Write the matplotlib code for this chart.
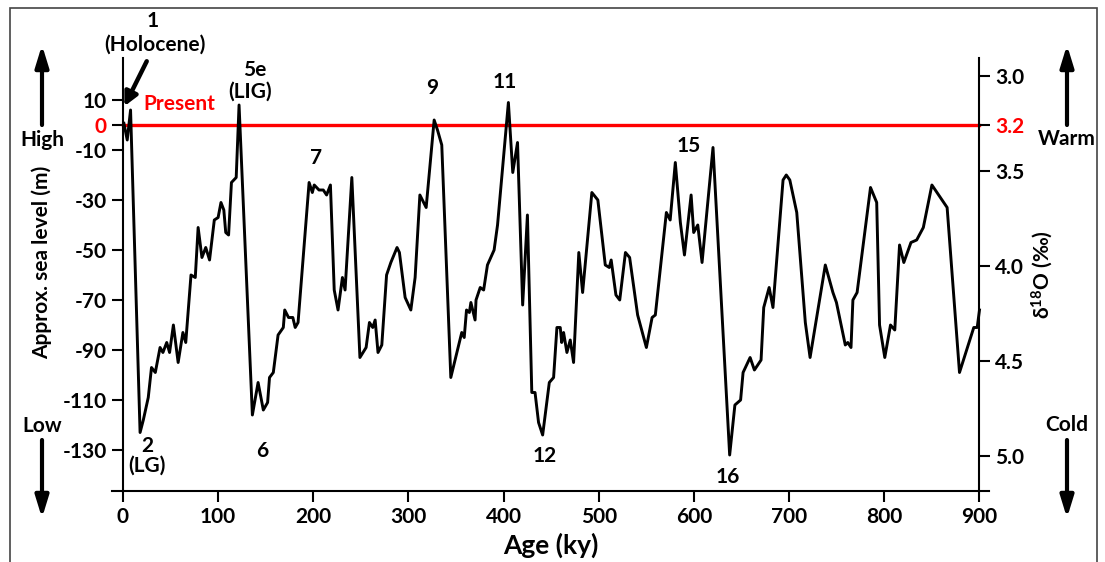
import matplotlib
matplotlib.use('Agg')
import matplotlib.pyplot as plt
from matplotlib.patches import Rectangle

plt.rcParams['font.family'] = ['Lato', 'DejaVu Sans']
plt.rcParams['font.weight'] = 'bold'
plt.rcParams['mathtext.default'] = 'regular'

# sea-level curve (age in ky, sea level in m)
ages = [1, 4.5, 8, 18, 21.4, 26.6, 30, 34, 39, 42,
        46, 49, 53, 58, 63, 66, 71.5, 76, 79, 83,
        87, 91, 96, 100, 103, 106, 108, 111, 114, 119,
        122, 136, 142, 147.5, 152, 154, 158, 163, 168.5, 170,
        174, 178.5, 181, 184, 195.6, 199, 201, 206, 210.5, 214,
        218, 222, 226, 230.6, 233.4, 240.5, 249, 255.5, 259, 262.5,
        265, 268, 272, 277, 281.5, 288, 290.5, 296.5, 302.5, 307,
        312, 318.6, 327, 330.5, 335, 344.5, 356, 358.6, 361, 364,
        365.6, 370, 371, 375.4, 379, 383, 390, 393.6, 405, 409.6,
        414.6, 420, 425, 429.6, 433, 436.7, 441, 448, 452.5, 456,
        459.5, 461, 463, 466.5, 470, 473.5, 479, 483, 492.7, 499,
        506.8, 511, 513, 518, 522, 528, 532.4, 540.8, 550, 556,
        559.4, 571, 575, 580.4, 585.7, 590, 597, 599.7, 604, 608.5,
        620, 637.5, 643, 649, 651.6, 659, 663.5, 670.5, 673.3, 679,
        683, 693.6, 697, 700.7, 708, 717, 722, 738, 741.6, 746,
        749.7, 759, 761.6, 765, 767, 771.4, 785.5, 792, 795, 800.5,
        806.5, 811, 816, 820.5, 828, 834, 841, 850, 866, 879,
        894, 897.6, 900]
sea_level = [0.7, -6, 6, -123, -118, -109, -97, -99, -89, -91,
             -87, -91, -80, -95, -83, -87, -60, -61, -41, -53,
             -49, -54, -38, -37, -31, -34, -43, -44, -23, -21,
             8, -116, -103, -114, -111, -101, -99, -84, -81, -74,
             -77, -77, -81, -79, -23, -27, -24, -26, -26, -28,
             -24, -66, -74, -61, -66, -21, -93, -89, -79, -81,
             -78, -91, -88, -60, -55, -49, -51, -69, -74, -61,
             -28, -33, 2, -2, -8, -101, -83, -85, -74, -75,
             -71, -78, -70, -65, -66, -56, -50, -40, 9, -19,
             -7, -72, -36, -107, -107, -119, -124, -103, -101, -81,
             -81, -87, -83, -91, -86, -95, -51, -67, -27, -30,
             -56, -57, -54, -68, -70, -51, -53, -76, -89, -77,
             -76, -35, -38, -15, -39, -52, -28, -43, -40, -55,
             -9, -132, -112, -110, -99, -93, -98, -94, -73, -65,
             -73, -22, -20, -22, -35, -79, -93, -56, -61, -67,
             -71, -88, -87, -89, -70, -67, -25, -31, -80, -93,
             -80, -82, -48, -55, -47, -46, -41, -24, -33, -99,
             -81, -81, -74]

present_level = 0
left_ticks = [10, 0, -10, -30, -50, -70, -90, -110, -130]
right_ticks = [3.0, 3.5, 4.0, 4.5, 5.0]
right_labels = ['3.0', '3.5', '4.0', '4.5', '5.0']
present_d18o = '3.2'
x_ticks = [0, 100, 200, 300, 400, 500, 600, 700, 800, 900]

# stage labels: (text, age, sea level)
stages = [('1', 31.5, 41.5), ('(Holocene)', 34, 32), ('5e', 139, 22), ('(LIG)', 134, 13.5),
          ('7', 203, -13), ('9', 325, 15), ('11', 401, 17), ('15', 594, -8.5),
          ('2', 26, -128.3), ('(LG)', 25, -136.3), ('6', 146, -130.5),
          ('12', 443, -132.5), ('16', 635, -141)]

W, H = 1105, 562
fig = plt.figure(figsize=(W / 100, H / 100), dpi=100)
ax = fig.add_axes([112 / W, 71 / H, 877 / W, 433 / H])
ax2 = ax.twinx()

ax.plot(ages, sea_level, color='black', lw=2.1, zorder=3)
ax.plot([0, 900], [present_level, present_level], color='#ff0000', lw=2.4, zorder=2)

ylo, yhi = -146.4, 26.8
ax.set_xlim(-11.5, 910)
ax.set_ylim(ylo, yhi)
r_top, r_bot = 2.905, 5.184
ax2.set_ylim(r_bot, r_top)

for a in (ax, ax2):
    a.spines['top'].set_visible(False)
    for s in a.spines.values():
        s.set_linewidth(1.5)
ax.spines['right'].set_visible(False)
ax2.spines['left'].set_visible(False)
ax2.spines['bottom'].set_visible(False)
ax.spines['left'].set_position(('data', 0))
ax2.spines['right'].set_position(('data', 900))

ax.set_xticks(x_ticks)
ax.set_yticks(left_ticks)
ax.set_yticklabels([str(t) for t in left_ticks])
ax.tick_params(axis='both', labelsize=15, width=1.5, length=8, direction='out')

# red 3.2 tick sits on the present-day line
r_present = r_top + (present_level - yhi) / (ylo - yhi) * (r_bot - r_top)
ax2.set_yticks([right_ticks[0], r_present] + right_ticks[1:])
ax2.set_yticklabels([right_labels[0], present_d18o] + right_labels[1:])
ax2.tick_params(axis='y', labelsize=15, width=1.5, length=8, direction='out')

for i, t in enumerate(ax.yaxis.get_major_ticks()):
    if left_ticks[i] == present_level:
        t.label1.set_color('#ff0000')
        t.tick1line.set_color('#ff0000')
t = ax2.yaxis.get_major_ticks()[1]
t.label2.set_color('#ff0000')
t.tick2line.set_color('#ff0000')

for txt, x, y in stages:
    ax.text(x, y, txt, ha='center', va='center', fontsize=15, fontweight='bold', clip_on=False)
ax.text(21, 8.4, 'Present', color='#ff0000', ha='left', va='center', fontsize=15, fontweight='bold')

ax.annotate('', xy=(1.5, 7.5), xytext=(25, 25.5),
            arrowprops=dict(arrowstyle='-|>,head_length=0.8,head_width=0.4', color='black', lw=3.2,
                            shrinkA=0, shrinkB=0),
            annotation_clip=False)

ax.set_xlabel('Age (ky)', fontsize=19, fontweight='bold', labelpad=4)

fig.text(42 / W, 1 - 262 / H, 'Approx. sea level (m)', rotation=90, ha='center', va='center',
         fontsize=15, fontweight='bold')
fig.text(1042 / W, 1 - 275 / H, 'δ$^{18}$O (‰)', rotation=90, ha='center', va='center',
         fontsize=15, fontweight='bold')

# direction arrows and words at the sides
side = [('High', 42, 140, 125, 45), ('Low', 42, 426, 440, 518),
        ('Warm', 1067, 139, 125, 45), ('Cold', 1067, 425, 440, 518)]
for word, px, py, y0, y1 in side:
    fig.text(px / W, 1 - py / H, word, ha='center', va='center', fontsize=15, fontweight='bold')
    ax.annotate('', xy=(px / W, 1 - y1 / H), xytext=(px / W, 1 - y0 / H),
                xycoords='figure fraction', textcoords='figure fraction',
                arrowprops=dict(arrowstyle='-|>,head_length=1.3,head_width=0.4', color='black',
                                lw=3, shrinkA=0, shrinkB=0),
                annotation_clip=False)

fig.add_artist(Rectangle((10 / W, -0.1), 1087 / W, 1.1 - 8 / H, transform=fig.transFigure,
                         fill=False, edgecolor='#444444', lw=1.2))

fig.savefig('out.png', dpi=100)
